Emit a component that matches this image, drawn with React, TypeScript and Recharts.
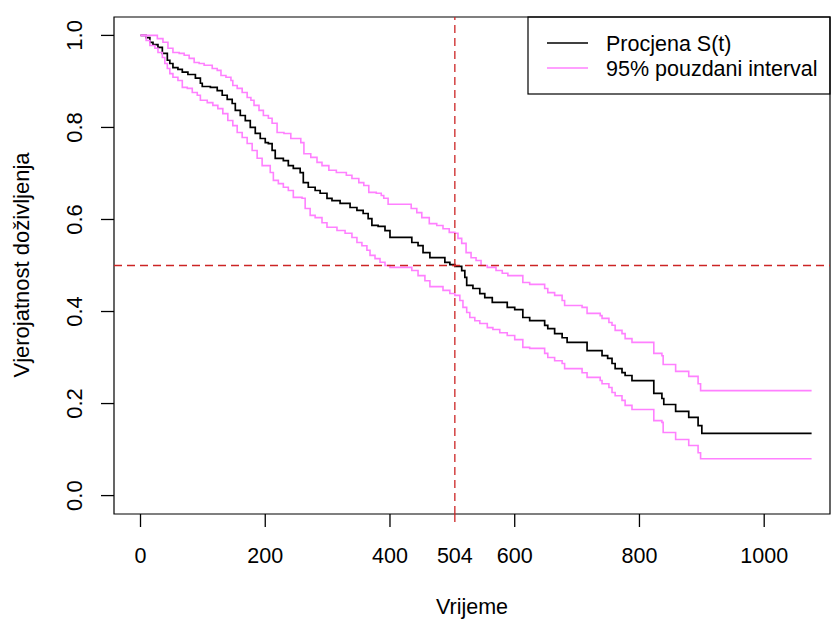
import React from 'react';
import { LineChart, Line, XAxis, YAxis, ReferenceLine, ReferenceArea, Customized } from 'recharts';

// Kaplan-Meier estimate (time in days, survival probability)
const estTime = [0, 9, 15, 20, 28, 35, 43, 47, 52, 60, 67, 76, 88, 96, 99, 112, 123, 131, 139, 147,
  152, 160, 168, 176, 184, 192, 200, 205, 211, 216, 229, 237, 245, 256, 261, 269, 280, 288, 299, 307,
  320, 336, 347, 357, 365, 371, 381, 392, 400, 435, 445, 453, 464, 488, 496, 504, 515, 520, 523, 533,
  544, 552, 564, 588, 600, 613, 624, 648, 653, 664, 676, 684, 716, 740, 749, 756, 761, 772, 777, 788,
  823, 836, 839, 858, 879, 894, 900, 1076];
const estSurv = [1, 0.995, 0.985, 0.98, 0.974, 0.961, 0.946, 0.939, 0.93, 0.926, 0.92, 0.915, 0.907, 0.896, 0.889,
  0.887, 0.88, 0.87, 0.861, 0.852, 0.837, 0.826, 0.815, 0.8, 0.787, 0.776, 0.767, 0.765, 0.75, 0.733,
  0.728, 0.717, 0.711, 0.702, 0.68, 0.67, 0.663, 0.657, 0.646, 0.641, 0.635, 0.626, 0.62, 0.613, 0.602,
  0.587, 0.585, 0.576, 0.561, 0.55, 0.543, 0.528, 0.517, 0.507, 0.502, 0.498, 0.489, 0.474, 0.457, 0.45,
  0.439, 0.43, 0.42, 0.409, 0.404, 0.387, 0.38, 0.37, 0.363, 0.352, 0.343, 0.333, 0.315, 0.304, 0.298,
  0.287, 0.276, 0.267, 0.261, 0.25, 0.222, 0.211, 0.198, 0.183, 0.17, 0.152, 0.135, 0.135];

// upper 95% bound
const upTime = [0, 27, 36, 44, 52, 62, 70, 78, 86, 94, 102, 115, 123, 129, 137, 145, 148, 155, 163, 171,
  177, 182, 190, 197, 205, 211, 219, 230, 241, 257, 262, 273, 283, 291, 302, 314, 330, 339, 350, 358,
  366, 378, 386, 390, 397, 434, 443, 451, 463, 475, 485, 495, 504, 509, 515, 522, 530, 538, 546, 556,
  570, 580, 589, 613, 624, 648, 653, 664, 676, 680, 708, 716, 737, 740, 751, 756, 761, 772, 777, 788,
  823, 836, 838, 858, 879, 894, 898, 1076];
const upSurv = [1, 0.993, 0.985, 0.972, 0.963, 0.961, 0.957, 0.95, 0.941, 0.939, 0.935, 0.928, 0.924, 0.913, 0.909,
  0.902, 0.891, 0.885, 0.876, 0.865, 0.859, 0.848, 0.837, 0.826, 0.82, 0.809, 0.789, 0.787, 0.776, 0.767,
  0.743, 0.735, 0.724, 0.717, 0.707, 0.702, 0.696, 0.689, 0.68, 0.674, 0.659, 0.657, 0.652, 0.646, 0.633,
  0.624, 0.615, 0.604, 0.591, 0.587, 0.58, 0.572, 0.57, 0.559, 0.548, 0.528, 0.517, 0.511, 0.5, 0.496,
  0.489, 0.483, 0.478, 0.463, 0.459, 0.45, 0.441, 0.435, 0.424, 0.413, 0.409, 0.396, 0.391, 0.385, 0.376,
  0.37, 0.359, 0.352, 0.341, 0.333, 0.309, 0.304, 0.285, 0.27, 0.259, 0.243, 0.228, 0.228];

// lower 95% bound
const loTime = [0, 9, 15, 23, 28, 35, 39, 43, 47, 52, 60, 67, 75, 83, 91, 96, 107, 116, 124, 132,
  140, 148, 155, 163, 171, 179, 187, 195, 208, 213, 221, 229, 237, 245, 259, 264, 272, 280, 291, 299,
  315, 328, 339, 347, 355, 363, 368, 376, 384, 392, 400, 435, 445, 456, 464, 485, 496, 504, 512, 517,
  523, 528, 536, 544, 556, 565, 576, 588, 600, 613, 624, 648, 653, 664, 676, 680, 708, 716, 737, 740,
  751, 756, 761, 772, 777, 788, 823, 836, 838, 858, 879, 894, 898, 1076];
const loSurv = [1, 0.989, 0.978, 0.972, 0.963, 0.952, 0.939, 0.928, 0.917, 0.909, 0.902, 0.887, 0.885, 0.876, 0.87,
  0.859, 0.854, 0.848, 0.841, 0.83, 0.815, 0.804, 0.789, 0.778, 0.765, 0.75, 0.733, 0.717, 0.702, 0.685,
  0.678, 0.67, 0.663, 0.648, 0.646, 0.624, 0.609, 0.604, 0.593, 0.583, 0.576, 0.57, 0.561, 0.55, 0.543,
  0.533, 0.522, 0.515, 0.507, 0.5, 0.496, 0.489, 0.478, 0.467, 0.454, 0.446, 0.439, 0.435, 0.424, 0.409,
  0.398, 0.387, 0.38, 0.374, 0.365, 0.361, 0.354, 0.348, 0.339, 0.322, 0.32, 0.309, 0.3, 0.293, 0.287,
  0.276, 0.267, 0.257, 0.25, 0.243, 0.235, 0.224, 0.217, 0.207, 0.196, 0.187, 0.163, 0.159, 0.137, 0.122,
  0.109, 0.093, 0.08, 0.08];

const xTicks = [0, 200, 400, 504, 600, 800, 1000];
const yTicks = [0, 0.2, 0.4, 0.6, 0.8, 1.0];
const MEDIAN = 504;
const HALF = 0.5;

const FONT = "'Liberation Sans', Arial, Helvetica, sans-serif";
const PINK = '#ff80ff';
const RED = '#cc2424';
const X_DOMAIN: [number, number] = [-42.5, 1105.5];
const Y_DOMAIN: [number, number] = [-0.04, 1.04];

const rows = (ts: number[], ss: number[]) => ts.map((t, i) => ({ t, s: ss[i] }));
const estData = rows(estTime, estSurv);
const upData = rows(upTime, upSurv);
const loData = rows(loTime, loSurv);

const XTick = ({ x, y, payload }: any) => {
  const isMedian = payload.value === MEDIAN;
  return (
    <g>
      <line x1={x} x2={x} y1={y} y2={y + 13}
        stroke={isMedian ? RED : '#000'} strokeWidth={1.3}
        strokeDasharray={isMedian ? '8 5' : undefined} />
      <text x={x} y={y + 49} textAnchor="middle" fontFamily={FONT} fontSize={21.5} fill="#000">
        {payload.value}
      </text>
    </g>
  );
};

const YTick = ({ x, y, payload }: any) => (
  <g>
    <line x1={x - 13} x2={x} y1={y} y2={y} stroke="#000" strokeWidth={1.3} />
    <text x={x - 32} y={y} transform={`rotate(-90, ${x - 32}, ${y})`} textAnchor="middle"
      fontFamily={FONT} fontSize={22} fill="#000">
      {payload.value.toFixed(1)}
    </text>
  </g>
);

const Extras = () => (
  <g fontFamily={FONT} fill="#000">
    <text x={472} y={614} textAnchor="middle" fontSize={21.5}>Vrijeme</text>
    <text x={29} y={265} transform="rotate(-90, 29, 265)" textAnchor="middle" fontSize={22}>
      Vjerojatnost doživljenja
    </text>
    <rect x={528} y={17} width={302} height={77} fill="#fff" stroke="#000" strokeWidth={1.2} />
    <line x1={547} x2={588} y1={43} y2={43} stroke="#000" strokeWidth={1.6} />
    <line x1={547} x2={588} y1={68} y2={68} stroke={PINK} strokeWidth={1.6} />
    <text x={606} y={51} fontSize={21.5}>Procjena S(t)</text>
    <text x={606} y={76} fontSize={21.5}>95% pouzdani interval</text>
  </g>
);

export default function App() {
  return (
    <div style={{ position: 'absolute', left: 0, top: 0, width: 831, height: 621, background: '#fff' }}>
      <LineChart width={831} height={621} margin={{ top: 17, right: 1, bottom: 0, left: 0 }}>
        <XAxis dataKey="t" type="number" domain={X_DOMAIN} allowDataOverflow ticks={xTicks}
          height={107} axisLine={false} tickLine={false} tickSize={0} tickMargin={0}
          tick={<XTick />} interval={0} />
        <YAxis type="number" domain={Y_DOMAIN} allowDataOverflow ticks={yTicks}
          width={114} axisLine={false} tickLine={false} tickSize={0} tickMargin={0}
          tick={<YTick />} interval={0} />
        <Line data={estData} dataKey="s" type="stepAfter" stroke="#000" strokeWidth={1.7}
          dot={false} activeDot={false} isAnimationActive={false} />
        <Line data={upData} dataKey="s" type="stepAfter" stroke={PINK} strokeWidth={1.6}
          dot={false} activeDot={false} isAnimationActive={false} />
        <Line data={loData} dataKey="s" type="stepAfter" stroke={PINK} strokeWidth={1.6}
          dot={false} activeDot={false} isAnimationActive={false} />
        <ReferenceLine x={MEDIAN} stroke={RED} strokeWidth={1.3} strokeDasharray="8 5" />
        <ReferenceLine y={HALF} stroke={RED} strokeWidth={1.3} strokeDasharray="8 5" />
        <ReferenceArea x1={X_DOMAIN[0]} x2={X_DOMAIN[1]} y1={Y_DOMAIN[0]} y2={Y_DOMAIN[1]}
          fill="none" stroke="#000" strokeWidth={1.2} fillOpacity={0} />
        <Customized component={<Extras />} />
      </LineChart>
    </div>
  );
}
